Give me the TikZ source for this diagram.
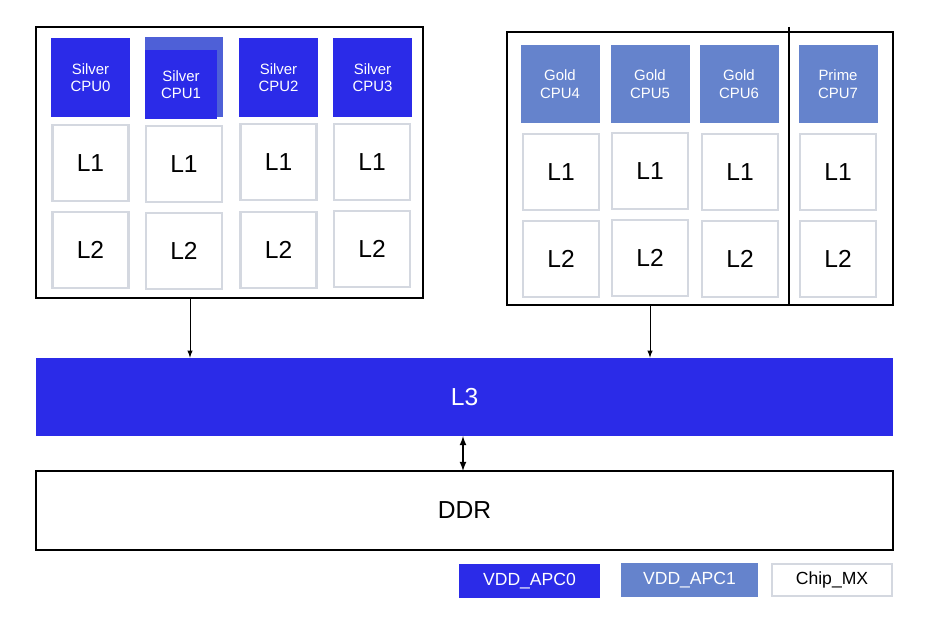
\documentclass[tikz,border=0pt]{standalone}
\usepackage{fontspec}
\setmainfont{Liberation Sans}
\definecolor{silverblue}{HTML}{2B2BE8}
\definecolor{goldblue}{HTML}{6583CC}
\definecolor{cachegray}{HTML}{D4D8E0}
\tikzset{
	cpu/.style={fill=silverblue, text=white, minimum width=1.58cm, minimum height=1.58cm, inner sep=0pt, align=center, font=\fontsize{8.5}{10}\selectfont},
	gold/.style={cpu, fill=goldblue},
	cache/.style={draw=cachegray, line width=1.2pt, fill=white, minimum width=1.52cm, minimum height=1.52cm, inner sep=0pt, font=\fontsize{14}{16}\selectfont},
	legend/.style={minimum height=0.68cm, inner sep=0pt, font=\fontsize{10}{12}\selectfont}
}
\begin{document}
\begin{tikzpicture}[x=0.02cm, y=-0.02cm]
	\useasboundingbox (0,0) rectangle (925,621);
	% Silver-Cluster
	\draw [thick] (36,27) rectangle (423,298);
	\foreach \n/\x in {0/90.5,2/278.5,3/372.5} {
		\node [cpu] (s\n) at (\x,77.5) {Silver\\CPU\n};
	}
	\fill [goldblue!60!silverblue] (145,37) rectangle (223,117);
	\node [cpu, minimum width=1.44cm, minimum height=1.38cm] (s1) at (181,84.5) {Silver\\CPU1};
	\foreach \n/\x/\ya/\yb in {0/90.5/163/250, 1/184/164/251, 2/278.5/162/250, 3/372/162/249} {
		\node [cache] (la\n) at (\x,\ya) {L1};
		\node [cache] (lb\n) at (\x,\yb) {L2};
	}
	% Gold-Cluster
	\draw [thick] (507,32) rectangle (893,305);
	\draw [thick] (789,27) -- (789,305);
	\foreach \n/\x/\t in {4/560/Gold,5/650/Gold,6/739/Gold,7/838/Prime} {
		\node [gold] (g\n) at (\x,84) {\t\\CPU\n};
	}
	\foreach \n/\x/\ya/\yb in {4/561/172/259, 5/650/171/258, 6/740/172/259, 7/838/172/259} {
		\node [cache] (ga\n) at (\x,\ya) {L1};
		\node [cache] (gb\n) at (\x,\yb) {L2};
	}
	% L3 und DDR
	\node [fill=silverblue, text=white, minimum width=17.14cm, minimum height=1.56cm, inner sep=0pt, font=\fontsize{14}{16}\selectfont] (l3) at (464.5,397) {L3};
	\node [draw, thick, minimum width=17.14cm, minimum height=1.58cm, inner sep=0pt, font=\fontsize{14}{16}\selectfont] (ddr) at (464.5,510.5) {DDR};
	\coordinate (sil) at (190,298);
	\coordinate (gol) at (650,305);
	\draw [-latex] (sil) -- (sil |- l3.north);
	\draw [-latex] (gol) -- (gol |- l3.north);
	\draw [latex-latex, thick] (463,436) -- (463,471);
	% Legende
	\node [legend, fill=silverblue, text=white, minimum width=2.82cm] (v0) at (529.5,581) {VDD\_APC0};
	\node [legend, fill=goldblue, text=white, minimum width=2.74cm] (v1) at (689.5,580) {VDD\_APC1};
	\node [legend, draw=cachegray, line width=1.2pt, minimum width=2.4cm, minimum height=0.64cm] (mx) at (832,580) {Chip\_MX};
\end{tikzpicture}
\end{document}
